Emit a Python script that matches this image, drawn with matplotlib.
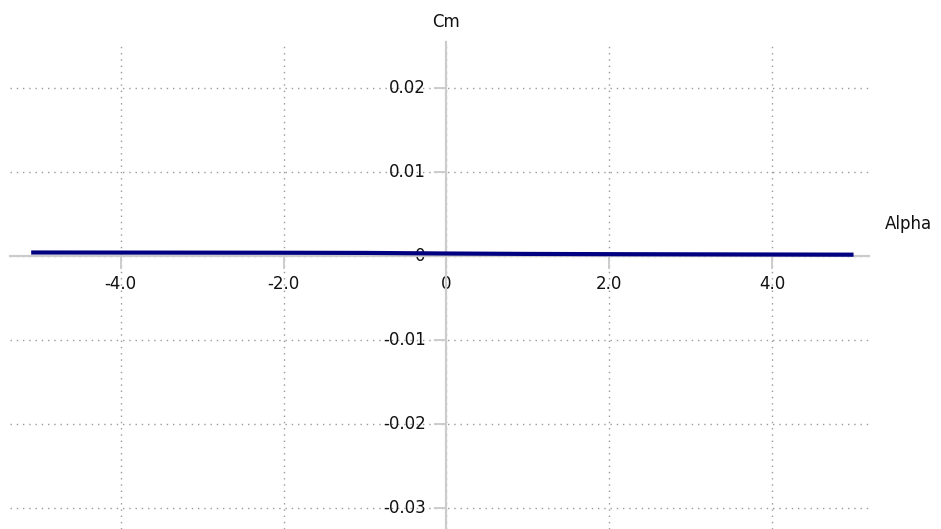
import matplotlib
matplotlib.use("Agg")
import matplotlib.pyplot as plt

# Pitching-moment coefficient versus angle of attack
alpha = [-5.1, -4.0, -3.0, -2.0, -1.0, 0.0, 1.0, 2.0, 3.0, 4.0, 5.0]
cm = [0.00042, 0.00041, 0.00040, 0.00039, 0.00037, 0.00030,
      0.00025, 0.00022, 0.00020, 0.00018, 0.00016]

x_ticks = [-4.0, -2.0, 0.0, 2.0, 4.0]
x_tick_labels = ["-4.0", "-2.0", "0", "2.0", "4.0"]
y_ticks = [0.02, 0.01, 0.0, -0.01, -0.02, -0.03]
y_tick_labels = ["0.02", "0.01", "0", "-0.01", "-0.02", "-0.03"]

W, H = 941, 529
fig = plt.figure(figsize=(W / 100, H / 100), dpi=100)
ax = fig.add_axes([10 / W, 0, (869 - 10) / W, (529 - 42) / H])

font = {"family": "DejaVu Sans", "size": 12, "color": "#111111"}
axis_grey = "#cccccc"
grid_grey = "#9a9a9a"

ax.set_xlim(-5.36, 5.19)
ax.set_ylim(-0.0325, 0.02548)

for side in ("top", "right"):
    ax.spines[side].set_visible(False)
for side in ("left", "bottom"):
    ax.spines[side].set_position("zero")
    ax.spines[side].set_color(axis_grey)
    ax.spines[side].set_linewidth(1.6)

ax.set_xticks(x_ticks)
ax.set_xticklabels(x_tick_labels, fontdict=font)
ax.set_yticks(y_ticks)
ax.set_yticklabels(y_tick_labels, fontdict=font)
ax.tick_params(axis="both", direction="out", length=9, width=1.4, colors=axis_grey,
               labelcolor="#111111")
ax.tick_params(axis="x", pad=5)
ax.tick_params(axis="y", pad=6)
for lbl in ax.get_yticklabels():
    lbl.set_verticalalignment("center")

ax.grid(True, color=grid_grey, linestyle=(0, (1, 3.5)), linewidth=1.0)
ax.set_axisbelow(True)

ax.plot(alpha, cm, color="#000080", linewidth=3.0, solid_capstyle="butt", zorder=3)

fig.text(446 / W, 1 - 22 / H, "Cm", ha="center", va="center", fontdict=font)
fig.text(908 / W, 1 - 224 / H, "Alpha", ha="center", va="center", fontdict=font)

fig.savefig("out.png", dpi=100)
